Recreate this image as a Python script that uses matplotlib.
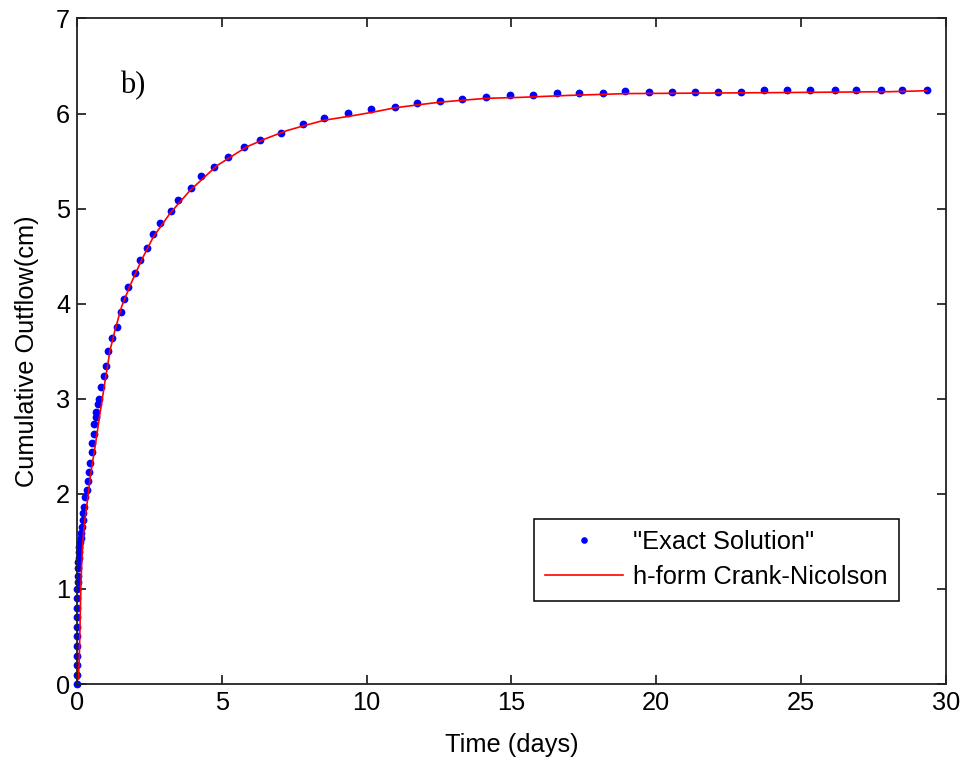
import matplotlib
matplotlib.use("Agg")
import matplotlib.pyplot as plt

# Exact solution samples (time in days, cumulative outflow in cm)
t_exact = [0.000, 0.000, 0.001, 0.001, 0.002, 0.003, 0.004, 0.006, 0.008, 0.010,
           0.013, 0.02, 0.03, 0.04, 0.05, 0.06, 0.07, 0.08, 0.10, 0.12,
           0.14, 0.16, 0.19, 0.21, 0.24, 0.28, 0.33, 0.38, 0.42, 0.46,
           0.50, 0.53, 0.57, 0.60, 0.64, 0.67, 0.71, 0.75, 0.82, 0.93,
           1.00, 1.08, 1.22, 1.37, 1.51, 1.63, 1.77, 2.00, 2.17, 2.41,
           2.61, 2.87, 3.23, 3.50, 3.92, 4.27, 4.73, 5.22, 5.77, 6.32,
           7.04, 7.79, 8.54, 9.37, 10.14, 10.97, 11.73, 12.55, 13.31, 14.14,
           14.97, 15.75, 16.56, 17.34, 18.15, 18.92, 19.74, 20.56, 21.33, 22.15,
           22.92, 23.74, 24.51, 25.33, 26.17, 26.91, 27.75, 28.50, 29.35]
q_exact = [0.00, 0.10, 0.20, 0.30, 0.40, 0.50, 0.60, 0.70, 0.80, 0.90,
           1.00, 1.07, 1.14, 1.22, 1.28, 1.33, 1.39, 1.44, 1.49, 1.54,
           1.59, 1.65, 1.72, 1.80, 1.86, 1.97, 2.04, 2.14, 2.23, 2.32,
           2.44, 2.53, 2.63, 2.74, 2.81, 2.86, 2.95, 3.00, 3.12, 3.24,
           3.35, 3.50, 3.64, 3.76, 3.91, 4.05, 4.18, 4.32, 4.46, 4.59,
           4.73, 4.85, 4.97, 5.09, 5.22, 5.34, 5.44, 5.54, 5.65, 5.72,
           5.80, 5.89, 5.95, 6.01, 6.05, 6.07, 6.11, 6.13, 6.15, 6.17,
           6.20, 6.20, 6.22, 6.22, 6.22, 6.24, 6.23, 6.23, 6.23, 6.23,
           6.23, 6.25, 6.25, 6.25, 6.25, 6.25, 6.25, 6.25, 6.25]

# h-form Crank-Nicolson numerical result
t_cn = [0.05, 0.08, 0.10, 0.12, 0.13, 0.16, 0.22, 0.28, 0.39, 0.47,
        0.62, 0.79, 0.97, 1.14, 1.31, 1.54, 1.83, 2.23, 2.63, 3.21,
        3.90, 4.82, 5.86, 6.55, 7.24, 7.93, 8.54, 9.37, 10.14, 10.97,
        11.73, 12.55, 13.31, 14.14, 15.29, 16.90, 19.00, 24.00, 28.10, 29.35]
q_cn = [0.05, 0.30, 0.57, 0.85, 0.99, 1.27, 1.58, 1.75, 2.00, 2.21,
        2.49, 2.84, 3.19, 3.51, 3.72, 3.97, 4.19, 4.46, 4.70, 4.95,
        5.19, 5.45, 5.65, 5.74, 5.82, 5.88, 5.93, 5.97, 6.01, 6.06,
        6.09, 6.12, 6.14, 6.16, 6.17, 6.19, 6.21, 6.22, 6.23, 6.24]

x_ticks = [0, 5, 10, 15, 20, 25, 30]
y_ticks = [0, 1, 2, 3, 4, 5, 6, 7]

plt.rcParams['font.family'] = ['Liberation Sans', 'DejaVu Sans']
fs = 18.3

fig = plt.figure(figsize=(9.63, 7.57), dpi=100, facecolor='white')
ax = fig.add_axes([0.080, 0.0964, 0.902, 0.8792])

ax.plot(t_exact, q_exact, linestyle='none', marker='o', markersize=5.6,
        color='#0000ff', markeredgecolor='#0000ff', markeredgewidth=0,
        label='"Exact Solution"', zorder=2, clip_on=False)
ax.plot(t_cn, q_cn, color='#ff0000', linewidth=1.2,
        label='h-form Crank-Nicolson', zorder=3)

ax.set_xlim(0, 30)
ax.set_ylim(0, 7)
ax.set_xticks(x_ticks)
ax.set_yticks(y_ticks)
ax.tick_params(direction='in', length=6.5, width=1.1, top=True, right=True,
               labelsize=fs, pad=5, colors='black')
for s in ax.spines.values():
    s.set_linewidth(1.3)
    s.set_color('#222222')

ax.set_xlabel('Time (days)', fontsize=fs, labelpad=13)
ax.set_ylabel('Cumulative Outflow(cm)', fontsize=fs, labelpad=12)

ax.text(0.049, 0.887, 'b)', transform=ax.transAxes, fontsize=22,
        family='Liberation Serif', ha='left', va='baseline',
        bbox=dict(facecolor='white', edgecolor='none', pad=12))

leg = ax.legend(loc='lower right', bbox_to_anchor=(0.946, 0.125),
                fontsize=fs, frameon=True, fancybox=False, framealpha=1,
                edgecolor='black', handlelength=3.05, handletextpad=0.4,
                borderpad=0.45, labelspacing=0.45, borderaxespad=0,
                markerscale=0.85)
leg.get_frame().set_linewidth(1.1)

fig.savefig('out.png', dpi=100, facecolor='white')
